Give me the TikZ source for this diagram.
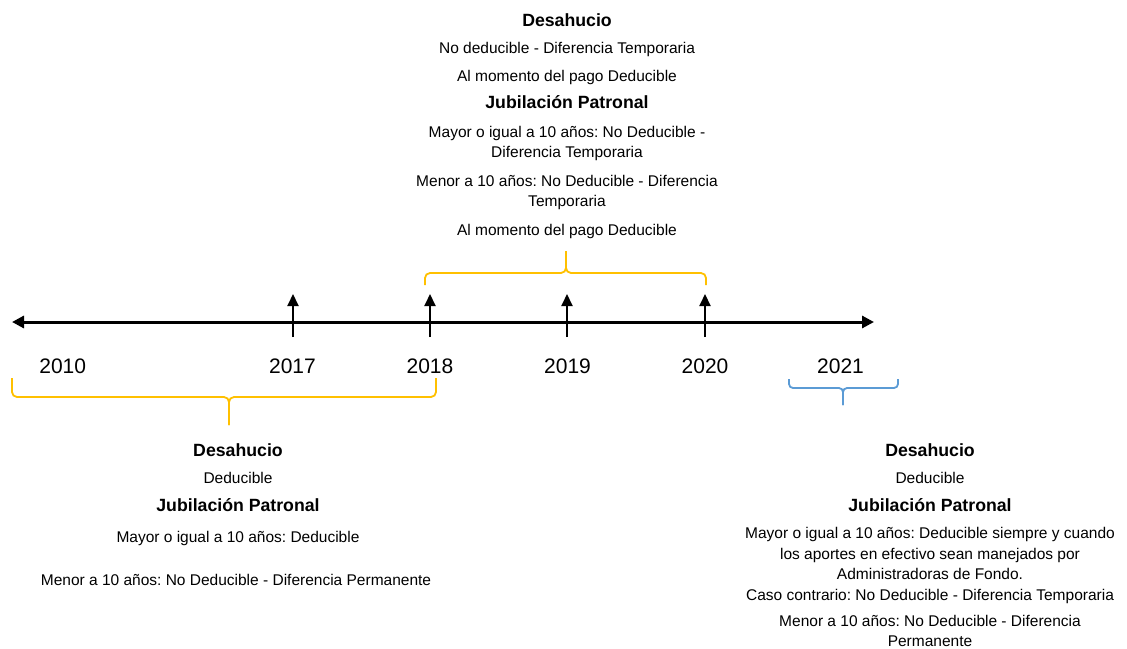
\documentclass[tikz,border=0pt]{standalone}
\usepackage{fontspec}
\setmainfont{Liberation Sans}
\usetikzlibrary{arrows.meta}
\frenchspacing
\definecolor{bracey}{HTML}{FFC000}
\definecolor{braceb}{HTML}{5B9BD5}
\tikzset{
  smalltxt/.style={anchor=base, inner sep=0pt, font=\fontsize{15.5}{18}\selectfont},
  headtxt/.style={anchor=base, inner sep=0pt, font=\fontsize{17.7}{21}\selectfont\bfseries},
  yeartxt/.style={anchor=base, inner sep=0pt, font=\fontsize{21}{25}\selectfont},
  axisline/.style={line width=3pt, {Triangle[length=12pt,width=12pt]}-{Triangle[length=12pt,width=12pt]}},
  tickarrow/.style={line width=2pt, -{Triangle[length=12pt,width=11pt]}},
  ybrace/.style={draw=bracey, line width=1.8pt, rounded corners=5pt},
  bbrace/.style={draw=braceb, line width=1.8pt, rounded corners=4pt},
}
\begin{document}
\begin{tikzpicture}[x=1pt,y=-1pt]
\useasboundingbox (0,0) rectangle (1127,648);
% axis
\coordinate (L) at (12,322);
\coordinate (R) at (874,322);
\draw[axisline] (L) -- (R);
% ticks
\coordinate (b17) at (293,337); \coordinate (a17) at (293,294);
\coordinate (b18) at (430,337); \coordinate (a18) at (430,294);
\coordinate (b19) at (567,337); \coordinate (a19) at (567,294);
\coordinate (b20) at (705,337); \coordinate (a20) at (705,294);
\draw[tickarrow] (b17) -- (a17);
\draw[tickarrow] (b18) -- (a18);
\draw[tickarrow] (b19) -- (a19);
\draw[tickarrow] (b20) -- (a20);
% years
\node[yeartxt] (y10) at (62.7,373.3) {2010};
\node[yeartxt] (y17) at (292.5,373.3) {2017};
\node[yeartxt] (y18) at (430,373.3) {2018};
\node[yeartxt] (y19) at (567.5,373.3) {2019};
\node[yeartxt] (y20) at (705,373.3) {2020};
\node[yeartxt] (y21) at (840.5,373.3) {2021};
% braces
\coordinate (bl1) at (12,378); \coordinate (bl2) at (436,378);
\coordinate (blm) at (229,397); \coordinate (blt) at (229,425);
\draw[ybrace] (bl1) |- (blm) -- (blt);
\draw[ybrace] (bl2) |- (blm) -- (blt);
\coordinate (tp1) at (425,285); \coordinate (tp2) at (706,285);
\coordinate (tpm) at (566,273); \coordinate (tpt) at (566,251);
\draw[ybrace] (tp1) |- (tpm) -- (tpt);
\draw[ybrace] (tp2) |- (tpm) -- (tpt);
\coordinate (br1) at (789,379); \coordinate (br2) at (898,379);
\coordinate (brm) at (843,388); \coordinate (brt) at (843,405);
\draw[bbrace] (br1) |- (brm) -- (brt);
\draw[bbrace] (br2) |- (brm) -- (brt);
% top text
\node[headtxt]  (t1) at (567,26)    {Desahucio};
\node[smalltxt] (t2) at (567,53.3)  {No deducible - Diferencia Temporaria};
\node[smalltxt] (t3) at (567,81.7)  {Al momento del pago Deducible};
\node[headtxt]  (t4) at (567,108.3) {Jubilación Patronal};
\node[smalltxt] (t5) at (567,137.7) {Mayor o igual a 10 años: No Deducible -};
\node[smalltxt] (t6) at (567,157.7) {Diferencia Temporaria};
\node[smalltxt] (t7) at (567,186.7) {Menor a 10 años: No Deducible - Diferencia};
\node[smalltxt] (t8) at (567,206.7) {Temporaria};
\node[smalltxt] (t9) at (567,235)   {Al momento del pago Deducible};
% bottom-left text
\node[headtxt]  (l1) at (238,456)   {Desahucio};
\node[smalltxt] (l2) at (238,483.3) {Deducible};
\node[headtxt]  (l3) at (238,511.7) {Jubilación Patronal};
\node[smalltxt] (l4) at (238,542.7) {Mayor o igual a 10 años: Deducible};
\node[smalltxt] (l5) at (236,585)   {Menor a 10 años: No Deducible - Diferencia Permanente};
% bottom-right text
\node[headtxt]  (r1) at (930,456)   {Desahucio};
\node[smalltxt] (r2) at (930,483.3) {Deducible};
\node[headtxt]  (r3) at (930,511.7) {Jubilación Patronal};
\node[smalltxt] (r4) at (930,538.5) {Mayor o igual a 10 años: Deducible siempre y cuando};
\node[smalltxt] (r5) at (930,559)   {los aportes en efectivo sean manejados por};
\node[smalltxt] (r6) at (930,579.5) {Administradoras de Fondo.};
\node[smalltxt] (r7) at (930,600)   {Caso contrario: No Deducible - Diferencia Temporaria};
\node[smalltxt] (r8) at (930,626)   {Menor a 10 años: No Deducible - Diferencia};
\node[smalltxt] (r9) at (930,646)   {Permanente};
\end{tikzpicture}
\end{document}
